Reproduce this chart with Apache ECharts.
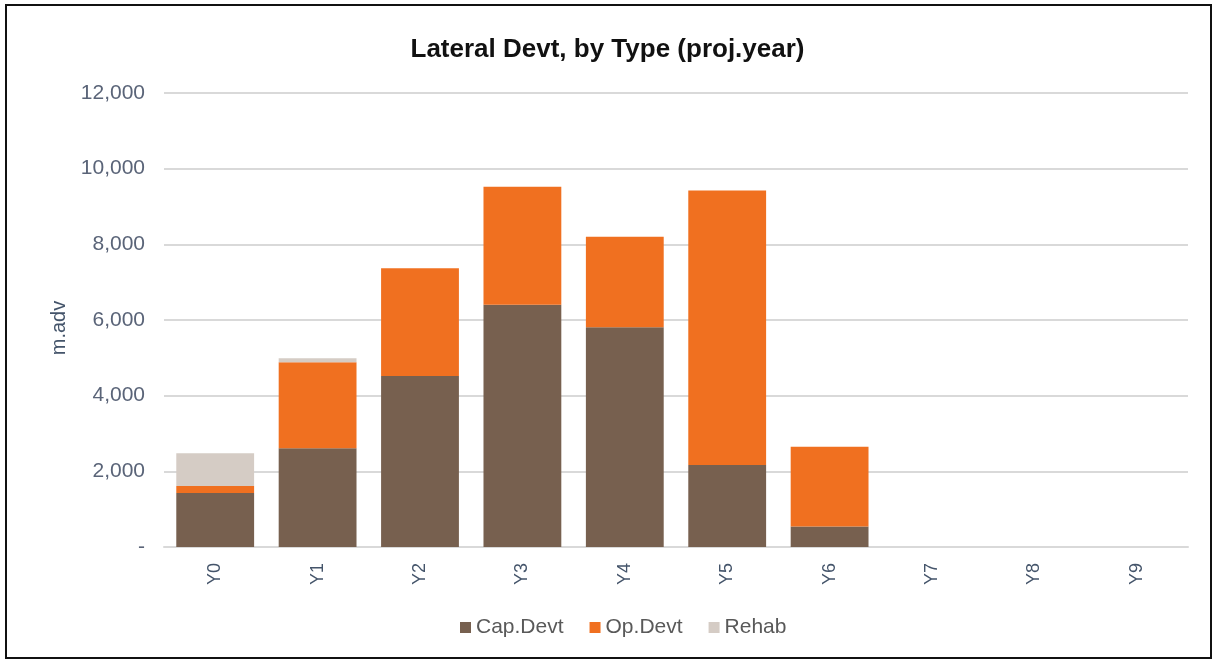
<!DOCTYPE html>
<html>
<head>
<meta charset="utf-8">
<style>
  html, body { margin: 0; padding: 0; background: #ffffff; }
  #frame { position: absolute; left: 5px; top: 4px; width: 1207px; height: 655px; border: 2px solid #111; box-sizing: border-box; }
  #chart { position: absolute; left: 0; top: 0; width: 1215px; height: 663px; }
</style>
<script src="https://cdn.jsdelivr.net/npm/echarts@6/dist/echarts.min.js"></script>
</head>
<body>
<div id="chart"></div>
<div id="frame"></div>
<script>
// Lateral development metres by type and project year
const years = ['Y0', 'Y1', 'Y2', 'Y3', 'Y4', 'Y5', 'Y6', 'Y7', 'Y8', 'Y9'];
const capDevt = [1430, 2610, 4520, 6400, 5810, 2170, 540, 0, 0, 0];
const opDevt  = [180, 2270, 2850, 3120, 2390, 7250, 2110, 0, 0, 0];
const rehab   = [870, 110, 0, 0, 0, 0, 0, 0, 0, 0];

const seriesNames = ['Cap.Devt', 'Op.Devt', 'Rehab'];
const seriesColors = ['#77604F', '#F07020', '#D5CCC5'];
const seriesData = [capDevt, opDevt, rehab];

const chart = echarts.init(document.getElementById('chart'));
const fontFamily = 'Liberation Sans, Arial, sans-serif';

chart.setOption({
  animation: false,
  title: {
    text: 'Lateral Devt, by Type (proj.year)',
    left: 'center',
    top: 32,
    textStyle: { fontFamily, fontSize: 26, fontWeight: 'bold', color: '#111' }
  },
  legend: {
    bottom: 20,
    left: 455,
    itemWidth: 11,
    itemHeight: 11,
    itemGap: 26,
    icon: 'rect',
    textStyle: { fontFamily, fontSize: 21, color: '#595959' },
    data: seriesNames
  },
  grid: { left: 164, right: 27, top: 93, bottom: 116, containLabel: false },
  xAxis: {
    type: 'category',
    data: years,
    axisLine: { lineStyle: { color: '#d9d9d9', width: 2 } },
    axisTick: { show: false },
    axisLabel: {
      rotate: 90,
      margin: 16,
      fontFamily, fontSize: 18, color: '#44546A'
    }
  },
  yAxis: {
    type: 'value',
    min: 0,
    max: 12000,
    interval: 2000,
    name: 'm.adv',
    nameLocation: 'middle',
    nameGap: 94,
    nameTextStyle: { fontFamily, fontSize: 20, color: '#44546A', padding: [0, 0, 0, -16] },
    axisLine: { show: false },
    axisTick: { show: false },
    splitLine: { lineStyle: { color: '#d9d9d9', width: 2 } },
    axisLabel: {
      margin: 19,
      fontFamily, fontSize: 21, color: '#5A6478',
      formatter: v => v === 0 ? '-' : v.toLocaleString('en-US')
    }
  },
  series: seriesNames.map((name, i) => ({
    name,
    type: 'bar',
    stack: 'total',
    barCategoryGap: '24%',
    itemStyle: { color: seriesColors[i] },
    data: seriesData[i]
  }))
});
</script>
</body>
</html>
